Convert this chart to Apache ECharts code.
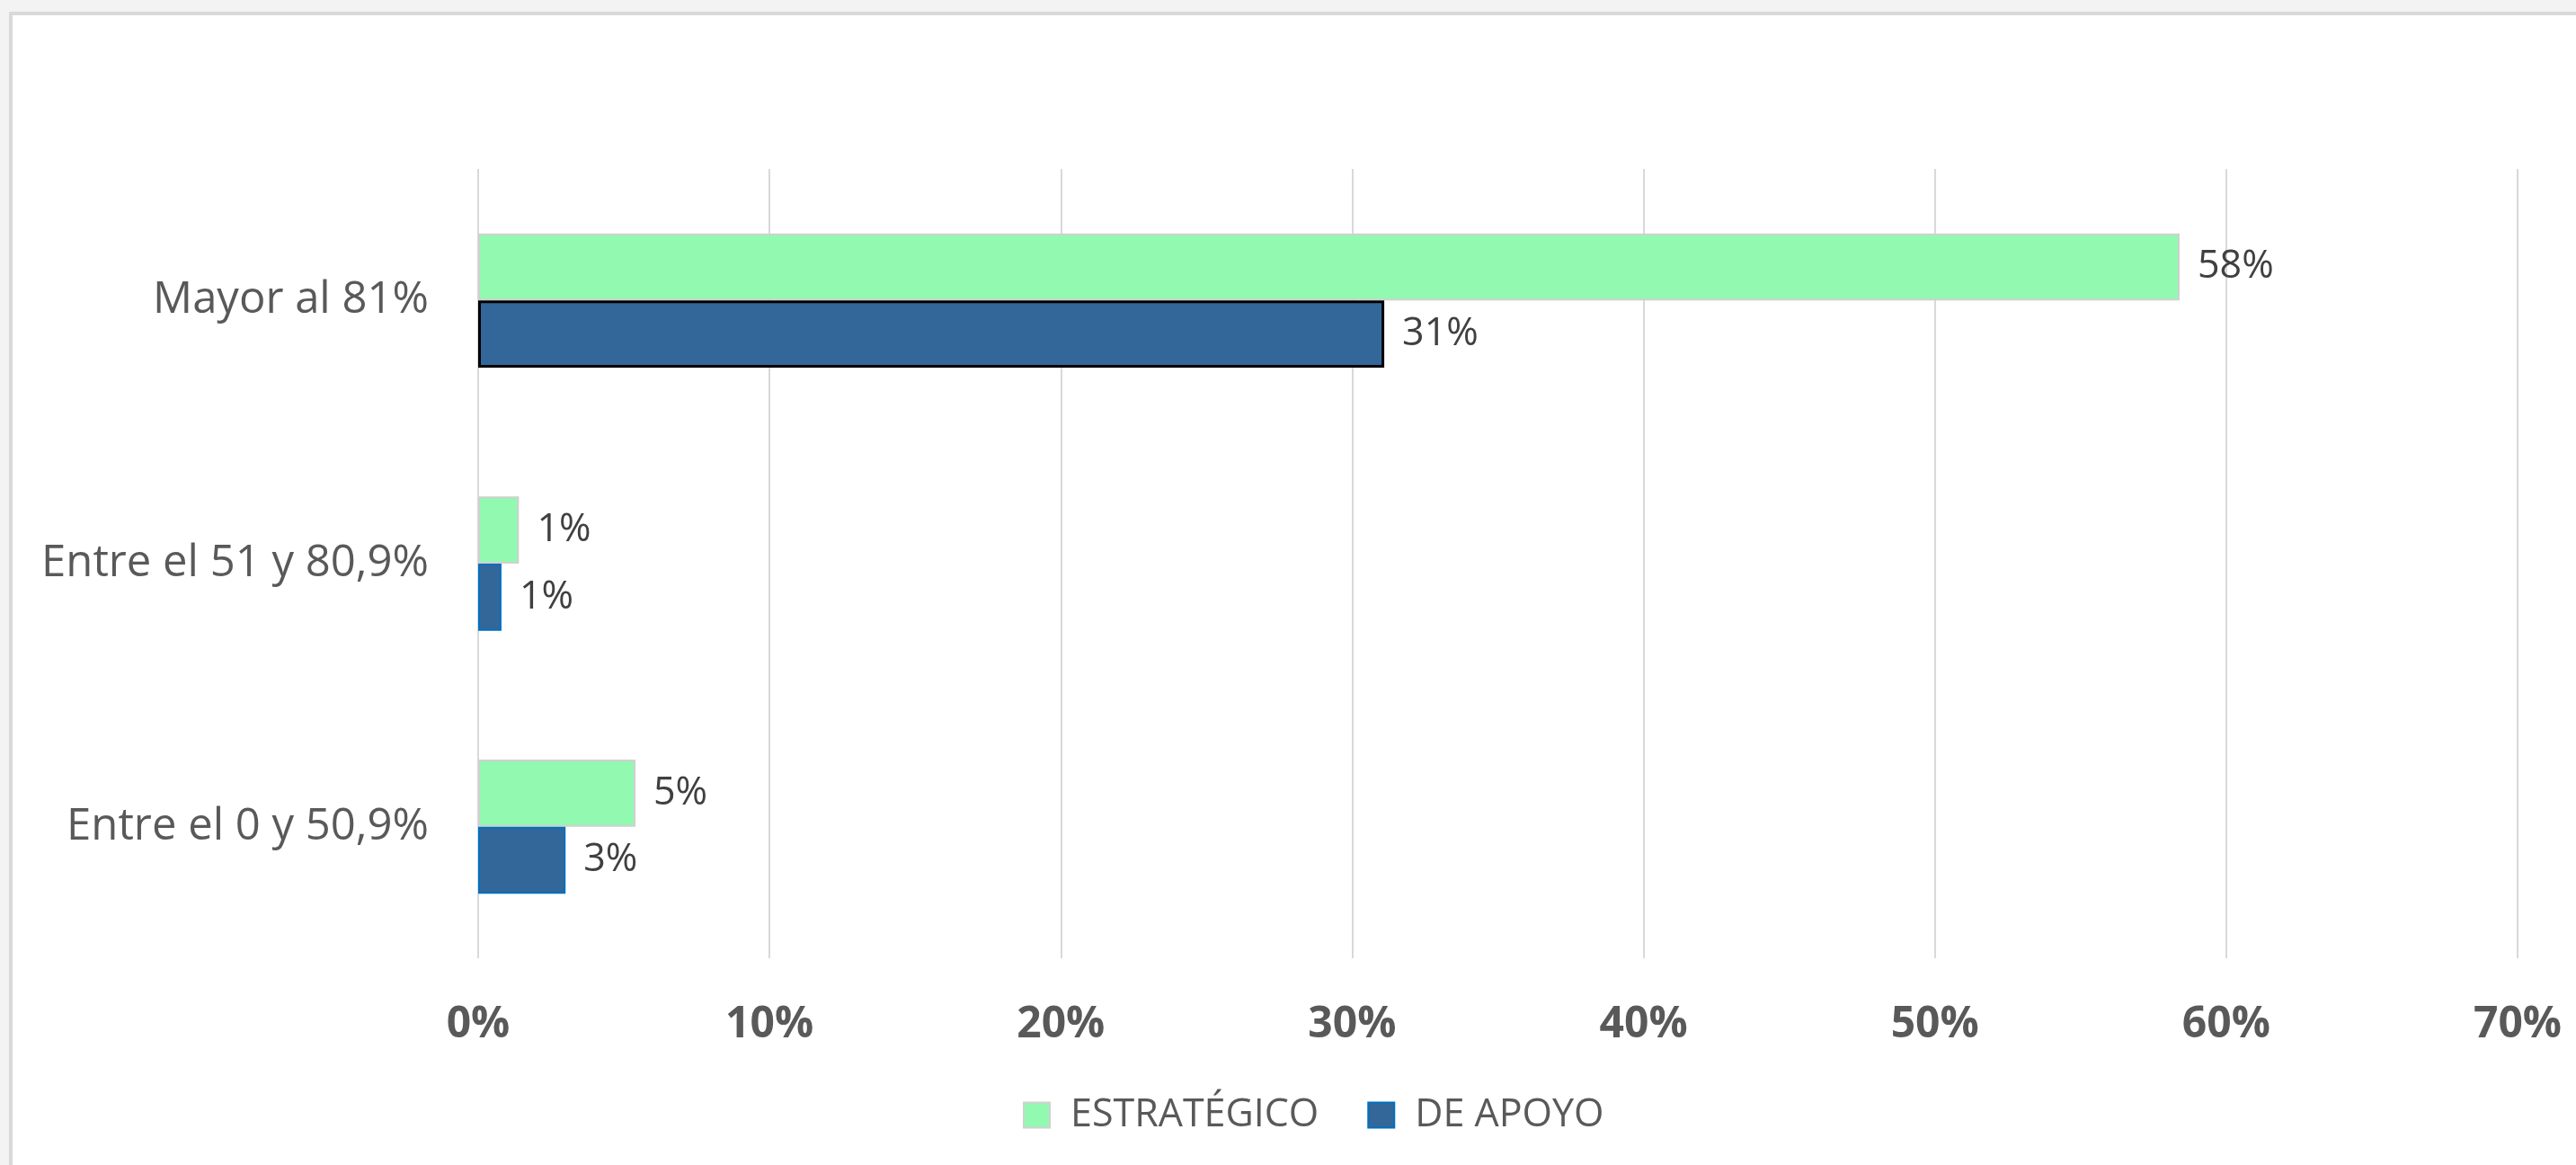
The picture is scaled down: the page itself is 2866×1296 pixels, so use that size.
<!DOCTYPE html>
<html>
<head>
<meta charset="utf-8">
<script src="https://cdn.jsdelivr.net/npm/echarts@6/dist/echarts.min.js"></script>
<style>
  html, body { margin: 0; padding: 0; background: #f3f3f3; width: 2866px; height: 1296px; overflow: hidden; }
  #frame { position: absolute; left: 10px; top: 13px; width: 2852px; height: 1279px; background: #ffffff; border-left: 4px solid #d9d9d9; border-top: 4px solid #d9d9d9; }
  #chart { position: absolute; left: 0; top: 0; width: 2866px; height: 1296px; }
</style>
</head>
<body>
<div id="frame"></div>
<div id="chart"></div>
<script>
// Categories listed bottom to top (ECharts category y-axis starts at the bottom)
const categories = ['Entre el 0 y 50,9%', 'Entre el 51 y 80,9%', 'Mayor al 81%'];
const seriesNames = ['ESTRATÉGICO', 'DE APOYO'];
const estrategico = [5.4, 1.4, 58.4];
const deApoyo = [3.0, 0.8, 31.1];
const xTicks = [0, 10, 20, 30, 40, 50, 60, 70];

const GREEN = '#92f9b1';
const BLUE = '#336699';

const chart = echarts.init(document.getElementById('chart'), null, { renderer: 'canvas' });

const labelStyle = {
  show: true,
  position: 'right',
  distance: 20,
  fontFamily: 'Open Sans',
  fontSize: 43,
  color: '#404040',
  formatter: p => Math.round(p.value) + '%'
};

chart.setOption({
  backgroundColor: 'transparent',
  animation: false,
  grid: { left: 532, right: 65, top: 188, bottom: 230, containLabel: false },
  legend: {
    data: seriesNames,
    left: 1133,
    top: 1214,
    itemWidth: 29,
    itemHeight: 28,
    itemGap: 54,
    icon: 'rect',
    textStyle: { fontFamily: 'Open Sans', fontSize: 43, color: '#595959', lineHeight: 43, padding: [0, 0, 0, 18] }
  },
  xAxis: {
    type: 'value',
    min: xTicks[0],
    max: xTicks[xTicks.length - 1],
    interval: 10,
    axisLine: { show: false },
    axisTick: { show: false },
    splitLine: { show: true, lineStyle: { color: '#d9d9d9', width: 2 } },
    axisLabel: {
      margin: 50,
      fontFamily: 'Open Sans',
      fontWeight: 'bold',
      fontSize: 48,
      color: '#595959',
      formatter: '{value}%'
    }
  },
  yAxis: {
    type: 'category',
    data: categories,
    axisLine: { show: false },
    axisTick: { show: false },
    splitLine: { show: false },
    axisLabel: {
      margin: 55,
      fontFamily: 'Open Sans',
      fontSize: 49,
      color: '#595959'
    }
  },
  series: [
    {
      name: seriesNames[0],
      type: 'bar',
      data: estrategico,
      barGap: '0%',
      barCategoryGap: '49%',
      itemStyle: { color: GREEN, borderColor: '#d0d0d0', borderWidth: 2 },
      label: labelStyle
    },
    {
      name: seriesNames[1],
      type: 'bar',
      data: deApoyo.map((v, i) => i === categories.length - 1
        ? { value: v, itemStyle: { borderColor: '#000000', borderWidth: 3 } }
        : v),
      barGap: '0%',
      barCategoryGap: '49%',
      itemStyle: { color: BLUE, borderColor: '#0070c0', borderWidth: 2 },
      label: labelStyle
    }
  ]
});
</script>
</body>
</html>
